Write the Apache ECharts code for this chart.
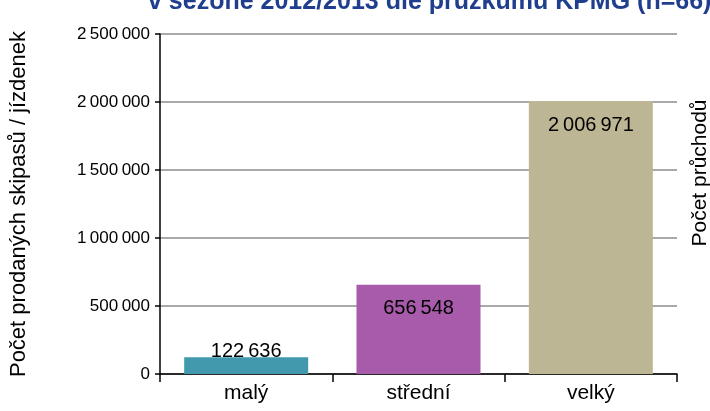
<!DOCTYPE html>
<html>
<head>
<meta charset="utf-8">
<script src="https://cdn.jsdelivr.net/npm/echarts@6/dist/echarts.min.js"></script>
<style>
  html, body { margin: 0; padding: 0; background: #fff; }
  #chart { width: 710px; height: 411px; }
</style>
</head>
<body>
<div id="chart"></div>
<script>
  // data
  var categories = ['malý', 'střední', 'velký']
  var values = [122636, 656548, 2006971]
  var barColors = ['#4299AE', '#A75BAA', '#BDB694']
  var yTicks = [0, 500000, 1000000, 1500000, 2000000, 2500000]

  var titleText = 'v sezóně 2012/2013 dle průzkumu KPMG (n=66)'
  var leftName = 'Počet prodaných skipasů / jízdenek'
  var rightName = 'Počet průchodů'

  function fmt (v) {
    // thousands split by thin space
    return String(v).replace(/\B(?=(\d{3})+(?!\d))/g, '\u2009')
  }

  var myChart = echarts.init(document.getElementById('chart'), null, { renderer: 'canvas' })
  var font = 'Liberation Sans, Arial, sans-serif'

  var seriesData = values.map(function (v, i) {
    var item = { value: v, itemStyle: { color: barColors[i] } }
    if (i === 0) {
      item.label = { position: 'top', distance: -4 }
    }
    return item
  })

  var option = {
    animation: false,
    textStyle: { fontFamily: font },
    title: {
      text: titleText,
      left: 143,
      top: -15,
      textStyle: { color: '#1F3E8E', fontSize: 25, fontWeight: 'bold', fontFamily: font }
    },
    grid: { left: 157, right: 33, top: 34, bottom: 37 },
    xAxis: {
      type: 'category',
      data: categories,
      axisLine: { lineStyle: { color: '#000', width: 1.5 } },
      axisTick: { show: true, length: 8, lineStyle: { color: '#000', width: 1.5 } },
      axisLabel: { color: '#000', fontSize: 21, margin: 9, fontFamily: font }
    },
    yAxis: {
      type: 'value',
      min: yTicks[0],
      max: yTicks[yTicks.length - 1],
      interval: 500000,
      name: leftName,
      nameLocation: 'middle',
      nameGap: 130,
      nameTextStyle: { color: '#000', fontSize: 22, fontFamily: font },
      axisLine: { show: true, lineStyle: { color: '#000', width: 1.5 } },
      axisTick: { show: true, length: 5, lineStyle: { color: '#000', width: 1.5 } },
      axisLabel: {
        color: '#000',
        fontSize: 17,
        margin: 10,
        fontFamily: font,
        formatter: function (v) { return fmt(v) }
      },
      splitLine: { show: true, lineStyle: { color: '#8C8C8C', width: 1.5 } }
    },
    graphic: [{
      type: 'text',
      x: 700,
      y: 173,
      rotation: Math.PI / 2,
      style: {
        text: rightName,
        fill: '#000',
        font: '21px ' + font,
        textAlign: 'center',
        textVerticalAlign: 'middle'
      }
    }],
    series: [{
      type: 'bar',
      data: seriesData,
      barWidth: 124,
      label: {
        show: true,
        position: 'insideTop',
        distance: 14,
        color: '#000',
        fontSize: 20,
        fontFamily: font,
        formatter: function (p) { return fmt(p.value) }
      }
    }]
  }
  myChart.setOption(option)
</script>
</body>
</html>
